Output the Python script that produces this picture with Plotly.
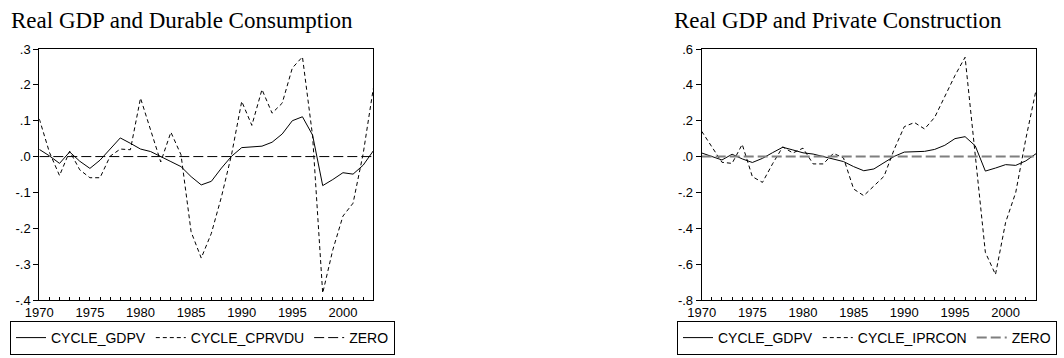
import plotly.graph_objects as go

YEARS = list(range(1970, 2004))

CYCLE_GDPV = [0.020, 0.002, -0.019, 0.013, -0.013, -0.033, -0.010, 0.022, 0.052, 0.037,
              0.021, 0.014, -0.001, -0.014, -0.028, -0.056, -0.079, -0.069, -0.032, 0.001,
              0.025, 0.027, 0.029, 0.040, 0.063, 0.100, 0.111, 0.060, -0.081, -0.064,
              -0.045, -0.049, -0.024, 0.016]

CYCLE_CPRVDU = [0.105, 0.012, -0.053, 0.015, -0.037, -0.059, -0.059, 0.001, 0.021, 0.019,
                0.163, 0.074, -0.015, 0.068, 0.005, -0.210, -0.283, -0.214, -0.112, 0.006,
                0.154, 0.087, 0.187, 0.121, 0.149, 0.247, 0.278, 0.058, -0.381, -0.260,
                -0.166, -0.130, 0.008, 0.190]

CYCLE_IPRCON = [0.141, 0.051, -0.032, -0.038, 0.068, -0.112, -0.144, -0.040, 0.054, 0.020,
                0.047, -0.041, -0.041, 0.018, -0.008, -0.181, -0.218, -0.164, -0.110, 0.040,
                0.167, 0.190, 0.154, 0.219, 0.340, 0.452, 0.554, 0.010, -0.534, -0.658,
                -0.367, -0.200, 0.100, 0.370]

ZERO = [0.0] * len(YEARS)

TITLES = ["Real GDP and Durable Consumption", "Real GDP and Private Construction"]
X_TICKS = [1970, 1975, 1980, 1985, 1990, 1995, 2000]
Y1_TICKS = [0.3, 0.2, 0.1, 0.0, -0.1, -0.2, -0.3, -0.4]
Y1_LABELS = [".3", ".2", ".1", ".0", "-.1", "-.2", "-.3", "-.4"]
Y2_TICKS = [0.6, 0.4, 0.2, 0.0, -0.2, -0.4, -0.6, -0.8]
Y2_LABELS = [".6", ".4", ".2", ".0", "-.2", "-.4", "-.6", "-.8"]

W, H = 1064, 358
SANS = "Liberation Sans, Arial, sans-serif"
SERIF = "Liberation Serif, Times New Roman, serif"

fig = go.Figure()

# left panel
fig.add_trace(go.Scatter(x=YEARS, y=CYCLE_GDPV, mode="lines", name="CYCLE_GDPV",
                         line=dict(color="black", width=1), xaxis="x", yaxis="y", legend="legend"))
fig.add_trace(go.Scatter(x=YEARS, y=CYCLE_CPRVDU, mode="lines", name="CYCLE_CPRVDU",
                         line=dict(color="black", width=1, dash="4px,3px"), xaxis="x", yaxis="y", legend="legend"))
fig.add_trace(go.Scatter(x=YEARS, y=ZERO, mode="lines", name="ZERO",
                         line=dict(color="black", width=1, dash="10px,4px"), xaxis="x", yaxis="y", legend="legend"))

# right panel
fig.add_trace(go.Scatter(x=YEARS, y=CYCLE_GDPV, mode="lines", name="CYCLE_GDPV",
                         line=dict(color="black", width=1), xaxis="x2", yaxis="y2", legend="legend2"))
fig.add_trace(go.Scatter(x=YEARS, y=CYCLE_IPRCON, mode="lines", name="CYCLE_IPRCON",
                         line=dict(color="black", width=1, dash="4px,3px"), xaxis="x2", yaxis="y2", legend="legend2"))
fig.add_trace(go.Scatter(x=YEARS, y=ZERO, mode="lines", name="ZERO",
                         line=dict(color="#7f7f7f", width=2, dash="10px,4px"), xaxis="x2", yaxis="y2", legend="legend2"))

def xax(domain, anchor):
    return dict(domain=domain, anchor=anchor, range=[1970, 2003], tickvals=X_TICKS,
                ticks="inside", ticklen=3, tickcolor="black", showline=True, linecolor="black",
                linewidth=1, mirror=True, showgrid=False, zeroline=False, automargin=False,
                tickfont=dict(family=SANS, size=13, color="black"),
                minor=dict(dtick=1, tick0=1970, ticks="inside", ticklen=3, tickcolor="black", showgrid=False))

def yax(domain, anchor, rng, vals, labels):
    return dict(domain=domain, anchor=anchor, range=rng, tickvals=vals, ticktext=labels,
                ticks="outside", ticklen=5, tickcolor="black", showline=True, linecolor="black",
                linewidth=1, mirror=True, showgrid=False, zeroline=False, automargin=False,
                tickfont=dict(family=SANS, size=13, color="black"))

ydom = [1 - 300 / H, 1 - 49 / H]
legend_common = dict(orientation="h", xanchor="left", yanchor="bottom", y=1 - 355 / H,
                     bordercolor="black", borderwidth=1, bgcolor="white",
                     font=dict(family=SANS, size=14, color="black"),
                     itemclick=False, itemdoubleclick=False)

fig.update_layout(
    width=W, height=H, margin=dict(l=0, r=0, t=0, b=0, autoexpand=False),
    paper_bgcolor="white", plot_bgcolor="white",
    xaxis=xax([39.3 / W, 373.3 / W], "y"),
    yaxis=yax(ydom, "x", [-0.4, 0.3], Y1_TICKS, Y1_LABELS),
    xaxis2=xax([701.7 / W, 1036 / W], "y2"),
    yaxis2=yax(ydom, "x2", [-0.8, 0.6], Y2_TICKS, Y2_LABELS),
    legend=dict(x=10 / W, **legend_common),
    legend2=dict(x=677 / W, **legend_common),
    annotations=[
        dict(text=TITLES[0], xref="paper", yref="paper", x=9 / W, y=1 - 21 / H,
             xanchor="left", yanchor="middle", showarrow=False,
             font=dict(family=SERIF, size=23, color="black")),
        dict(text=TITLES[1], xref="paper", yref="paper", x=672 / W, y=1 - 21 / H,
             xanchor="left", yanchor="middle", showarrow=False,
             font=dict(family=SERIF, size=23, color="black")),
    ],
)

fig.write_html("out.html")
